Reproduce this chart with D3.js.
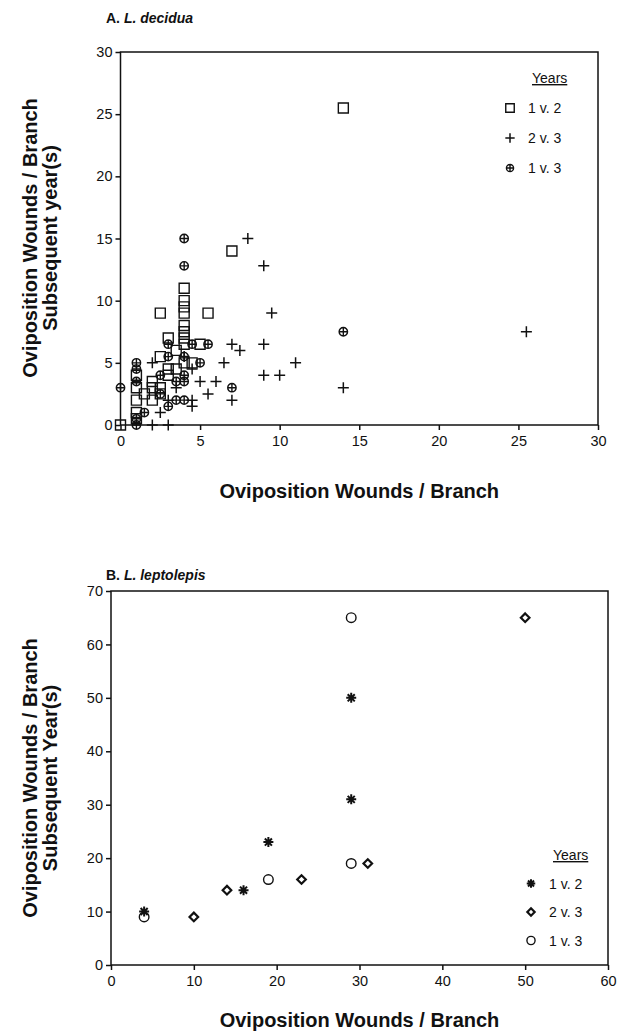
<!DOCTYPE html>
<html>
<head>
<meta charset="utf-8">
<script src="https://cdn.jsdelivr.net/npm/d3@7"></script>
<style>
  body { margin: 0; background: #fff; }
  svg { display: block; font-family: "Liberation Sans", Arial, sans-serif; }
  .tick text { font-size: 14.5px; fill: #111; }
  .axis-title { font-size: 20px; font-weight: bold; fill: #111; }
  .panel-title { font-size: 14px; font-weight: bold; fill: #111; }
  .legend text { font-size: 14px; fill: #111; }
</style>
</head>
<body>
<svg id="chart" width="624" height="1033"></svg>
<script>
// ---- Panel A: L. decidua, [wounds this year, wounds subsequent year(s)] ----
const decidua_1v2 = [[0,0],[1,0.5],[1,1],[1,2],[1,3],[1,4],[1.5,2.5],[2,2],[2,3],[2,3.5],
  [2.5,2.5],[2.5,3],[2.5,5.5],[2.5,9],[3,4],[3,4.5],[3,7],[3.5,4.5],[3.5,6],[4,5],[4,6.5],
  [4,7],[4,7.5],[4,8],[4,9],[4,9.5],[4,10],[4,11],[4.5,5],[5,6.5],[5.5,9],[7,14],[14,25.5]];
const decidua_2v3 = [[2,0],[3,0],[2,5],[2.5,1],[3,2],[3.5,3],[4,5.5],[4.5,4.5],[4.5,2],[4.5,1.5],
  [5,3.5],[5.5,2.5],[6,3.5],[6.5,5],[7,6.5],[7.5,6],[7,2],[8,15],[9,12.8],[9.5,9],[9,6.5],
  [9,4],[10,4],[11,5],[14,3],[25.5,7.5]];
const decidua_1v3 = [[0,3],[1,0],[1,0.5],[1,3.5],[1,4.5],[1,5],[1.5,1],[2.5,2.5],[2.5,4],[3,1.5],
  [3,5.5],[3,6.5],[3.5,2],[3.5,3.5],[4,2],[4,3.5],[4,4],[4,5.5],[4,12.8],[4,15],[4.5,6.5],
  [5,5],[5.5,6.5],[7,3],[14,7.5]];
const decidua_xTicks = [0, 5, 10, 15, 20, 25, 30];
const decidua_yTicks = [0, 5, 10, 15, 20, 25, 30];

// ---- Panel B: L. leptolepis ----
const leptolepis_1v2 = [[4,10],[16,14],[19,23],[29,31],[29,50]];
const leptolepis_2v3 = [[10,9],[14,14],[23,16],[31,19],[50,65]];
const leptolepis_1v3 = [[4,9],[19,16],[29,19],[29,65]];
const leptolepis_xTicks = [0, 10, 20, 30, 40, 50, 60];
const leptolepis_yTicks = [0, 10, 20, 30, 40, 50, 60, 70];

const seriesLabels = ["1 v. 2", "2 v. 3", "1 v. 3"];

// custom symbol types for d3.symbol (size = half-width in px here)
const openSquare = { draw(ctx, r) { ctx.rect(-r, -r, 2 * r, 2 * r); } };
const plus = { draw(ctx, r) { ctx.moveTo(-r, 0); ctx.lineTo(r, 0); ctx.moveTo(0, -r); ctx.lineTo(0, r); } };
const circlePlus = { draw(ctx, r) {
  ctx.moveTo(r, 0); ctx.arc(0, 0, r, 0, 2 * Math.PI);
  ctx.moveTo(-r, 0); ctx.lineTo(r, 0); ctx.moveTo(0, -r); ctx.lineTo(0, r); } };
const diamond = { draw(ctx, r) { ctx.moveTo(0, -r); ctx.lineTo(r, 0); ctx.lineTo(0, r); ctx.lineTo(-r, 0); ctx.closePath(); } };
const openCircle = { draw(ctx, r) { ctx.moveTo(r, 0); ctx.arc(0, 0, r, 0, 2 * Math.PI); } };
const asterisk = { draw(ctx, r) {
  for (let k = 0; k < 4; k++) {
    const a = k * Math.PI / 4;
    ctx.moveTo(-r * Math.cos(a), -r * Math.sin(a)); ctx.lineTo(r * Math.cos(a), r * Math.sin(a));
  } } };

const svg = d3.select('#chart');

function drawPanel(cfg) {
  const x = d3.scaleLinear().domain(cfg.xDomain).range([cfg.left, cfg.right]);
  const y = d3.scaleLinear().domain(cfg.yDomain).range([cfg.bottom, cfg.top]);
  const g = svg.append('g');

  // frame
  g.append('rect')
    .attr('x', cfg.left).attr('y', cfg.top)
    .attr('width', cfg.right - cfg.left).attr('height', cfg.bottom - cfg.top)
    .attr('fill', 'none').attr('stroke', '#111').attr('stroke-width', 1.5);

  const xAxis = d3.axisBottom(x).tickValues(cfg.xTicks).tickSize(5).tickPadding(6).tickSizeOuter(0);
  const yAxis = d3.axisLeft(y).tickValues(cfg.yTicks).tickSize(5).tickPadding(3).tickSizeOuter(0);
  const xg = g.append('g').attr('transform', `translate(0,${cfg.bottom})`).call(xAxis);
  const yg = g.append('g').attr('transform', `translate(${cfg.left},0)`).call(yAxis);
  [xg, yg].forEach(a => {
    a.select('.domain').remove();
    a.selectAll('.tick line').attr('stroke', '#111').attr('stroke-width', 1.5);
    a.attr('font-family', null).attr('font-size', null);
  });

  // titles
  const title = g.append('text').attr('class', 'panel-title')
    .attr('x', cfg.titleX).attr('y', cfg.titleY);
  title.append('tspan').text(cfg.letter + '  ');
  title.append('tspan').attr('font-style', 'italic').text(cfg.species);

  g.append('text').attr('class', 'axis-title')
    .attr('x', (cfg.left + cfg.right) / 2).attr('y', cfg.xTitleY)
    .attr('text-anchor', 'middle').text('Oviposition Wounds / Branch');

  const yt = g.append('text').attr('class', 'axis-title')
    .attr('text-anchor', 'middle')
    .attr('transform', `translate(37,${cfg.yTitleCy}) rotate(-90)`);
  yt.append('tspan').attr('x', 0).attr('dy', 0).text('Oviposition Wounds / Branch');
  yt.append('tspan').attr('x', 0).attr('dy', 20).text(cfg.yTitle2);

  // points
  cfg.series.forEach(s => {
    g.append('g').selectAll('path')
      .data(s.data)
      .join('path')
      .attr('transform', d => `translate(${x(d[0])},${y(d[1])})`)
      .attr('d', d3.symbol().type(s.type).size(s.r))
      .attr('fill', 'none')
      .attr('stroke', '#111')
      .attr('stroke-width', s.sw);
  });

  // legend
  const lg = g.append('g').attr('class', 'legend');
  lg.append('text').attr('x', cfg.legendX + 22).attr('y', cfg.legendY)
    .text('Years').attr('text-decoration', 'underline');
  cfg.series.forEach((s, i) => {
    const cy = cfg.legendY + cfg.legendStep * (i + 1) - 5;
    lg.append('path')
      .attr('transform', `translate(${cfg.legendX},${cy})`)
      .attr('d', d3.symbol().type(s.type).size(s.r * 0.85))
      .attr('fill', 'none').attr('stroke', '#111').attr('stroke-width', s.sw);
    lg.append('text').attr('x', cfg.legendX + 18).attr('y', cy + 5).text(seriesLabels[i]);
  });
}

drawPanel({
  letter: 'A.', species: 'L.  decidua', titleX: 106, titleY: 23,
  left: 120.5, right: 598, top: 52, bottom: 425,
  xDomain: [0, 30], yDomain: [0, 30],
  xTicks: decidua_xTicks, yTicks: decidua_yTicks,
  xTitleY: 498, yTitleCy: 238, yTitle2: 'Subsequent year(s)',
  legendX: 510, legendY: 83, legendStep: 30,
  series: [
    { data: decidua_1v2, type: openSquare, r: 5, sw: 1.4 },
    { data: decidua_2v3, type: plus, r: 5.5, sw: 1.5 },
    { data: decidua_1v3, type: circlePlus, r: 4.2, sw: 1.4 }
  ]
});

drawPanel({
  letter: 'B.', species: 'L.  leptolepis', titleX: 106, titleY: 580,
  left: 111, right: 608, top: 591, bottom: 965,
  xDomain: [0, 60], yDomain: [0, 70],
  xTicks: leptolepis_xTicks, yTicks: leptolepis_yTicks,
  xTitleY: 1027, yTitleCy: 778, yTitle2: 'Subsequent Year(s)',
  legendX: 531, legendY: 860, legendStep: 28.5,
  series: [
    { data: leptolepis_1v2, type: asterisk, r: 5, sw: 2 },
    { data: leptolepis_2v3, type: diamond, r: 4.3, sw: 2.2 },
    { data: leptolepis_1v3, type: openCircle, r: 4.8, sw: 1.4 }
  ]
});
</script>
</body>
</html>
